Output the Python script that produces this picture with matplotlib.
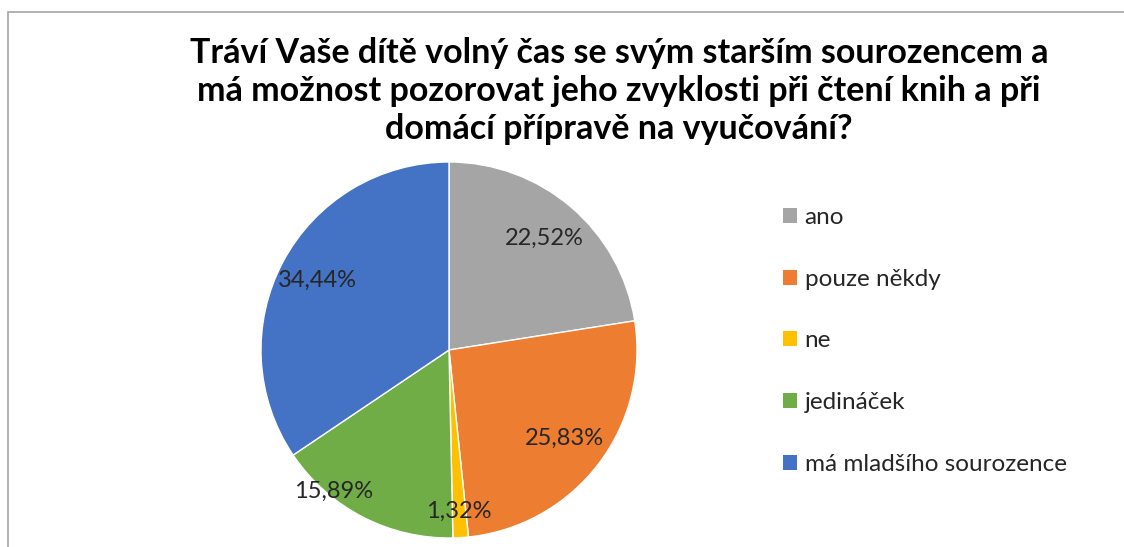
import numpy as np
import matplotlib
matplotlib.use("Agg")
import matplotlib.pyplot as plt
from matplotlib.patches import Rectangle, Patch

title = "Tráví Vaše dítě volný čas se svým starším sourozencem a\nmá možnost pozorovat jeho zvyklosti při čtení knih a při\ndomácí přípravě na vyučování?"
categories = ["ano", "pouze někdy", "ne", "jedináček", "má mladšího sourozence"]
values = [22.52, 25.83, 1.32, 15.89, 34.44]
colors = ["#A5A5A5", "#ED7D31", "#FFC000", "#70AD47", "#4472C4"]
# label placement (distance as fraction of radius, angle shift in degrees)
label_dist = [0.78, 0.775, 0.86, 0.97, 0.79]
label_shift = [0, 0, 0, -12, 0]

FONT = "Lato"
W, H = 1124, 547
fig = plt.figure(figsize=(W / 100, H / 100), dpi=100)
fig.patch.set_facecolor("white")

# chart frame
fig.patches.append(Rectangle((8 / W, -0.1), 1.2, (H - 12) / H + 0.1, transform=fig.transFigure,
                             fill=False, edgecolor="#A6A6A6", linewidth=1.2))

cx, cy, r = 449, 350, 188
ax = fig.add_axes([(cx - r) / W, (H - cy - r) / H, 2 * r / W, 2 * r / H])
wedges, _ = ax.pie(values, colors=colors, startangle=90, counterclock=False,
                   wedgeprops=dict(edgecolor="white", linewidth=1.0), radius=1.0)
ax.set_xlim(-1, 1)
ax.set_ylim(-1, 1)
ax.set_aspect("equal")

for w, v, d, s in zip(wedges, values, label_dist, label_shift):
    ang = np.deg2rad((w.theta1 + w.theta2) / 2 + s)
    ax.text(d * np.cos(ang), d * np.sin(ang), f"{v:.2f}%".replace(".", ","),
            ha="center", va="center", fontsize=17, family=FONT, color="#262626")

fig.text(619 / W, 1 - 91 / H, title, ha="center", va="center", fontsize=24.5,
         fontweight="bold", family=FONT, color="#000000", linespacing=1.22)

handles = [Patch(facecolor=c, edgecolor="none") for c in colors]
leg = fig.legend(handles, categories, loc="upper left", bbox_to_anchor=(776 / W, 1 - 200 / H),
                 frameon=False, prop=dict(family=FONT, size=17.5), labelspacing=1.67,
                 handlelength=0.58, handleheight=0.58, handletextpad=0.3, borderaxespad=0,
                 borderpad=0.3)
for t in leg.get_texts():
    t.set_color("#262626")

fig.savefig("out.png", dpi=100, facecolor="white")
